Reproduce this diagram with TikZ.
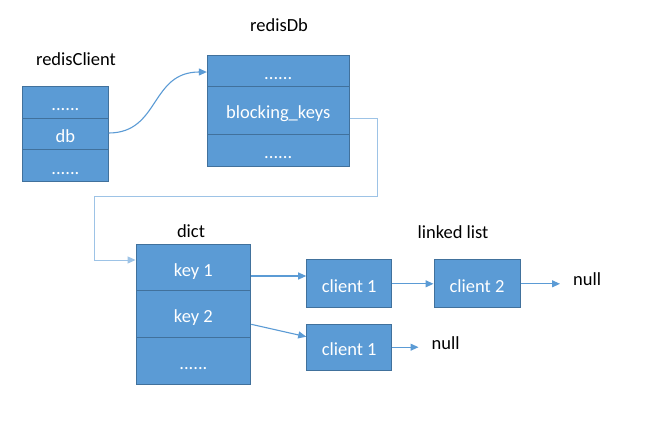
\documentclass[tikz,border=0pt]{standalone}
\usepackage{fontspec}
\setmainfont{Carlito}
\usetikzlibrary{arrows.meta}
\definecolor{cellfill}{HTML}{5B9BD5}
\definecolor{cellborder}{HTML}{41719C}
\definecolor{link}{HTML}{5B9BD5}
\definecolor{linklight}{HTML}{9DC3E6}
\tikzset{
  cell/.style={draw=cellborder, line width=1pt, fill=cellfill, text=white, inner sep=0pt,
    font=\fontsize{18.5}{21}\selectfont, text height=17pt, text depth=0pt, anchor=center},
  lbl/.style={font=\fontsize{18.5}{21}\selectfont, text=black, inner sep=0pt, anchor=base},
  conn/.style={draw=link, line width=1.1pt, -{Triangle[length=8pt,width=7pt]}},
  elbow/.style={draw=linklight, line width=1pt, -{Triangle[length=8pt,width=7pt]}}
}
\begin{document}
\begin{tikzpicture}[x=1pt,y=-1pt]
\useasboundingbox (0,0) rectangle (654,424);
\fill[white] (0,0) rectangle (654,424);

% redisClient
\node[lbl] (rcl) at (76,65) {redisClient};
\node[cell, minimum width=85.3pt, minimum height=32pt] (rc1) at (65.4,102) {......};
\node[cell, minimum width=85.3pt, minimum height=31.3pt] (rc2) at (65.4,133.7) {db};
\node[cell, minimum width=85.3pt, minimum height=32.4pt] (rc3) at (65.4,165.5) {......};

% redisDb
\node[lbl] (rdl) at (279,31.7) {redisDb};
\node[cell, minimum width=141.7pt, minimum height=31pt] (rd1) at (278.2,70.5) {......};
\node[cell, minimum width=141.7pt, minimum height=48.3pt] (rd2) at (278.2,110.2) {blocking\_keys};
\node[cell, minimum width=141.7pt, minimum height=31.7pt] (rd3) at (278.2,150.2) {......};

% dict
\node[lbl] (dl) at (191,237) {dict};
\node[cell, minimum width=114.7pt, minimum height=47pt] (d1) at (193.4,267.5) {key 1};
\node[cell, minimum width=114.7pt, minimum height=46.7pt] (d2) at (193.4,314.3) {key 2};
\node[cell, minimum width=114.7pt, minimum height=47.3pt] (d3) at (193.4,361.3) {......};

% linked list
\node[lbl] (ll) at (453,238) {linked list};
\node[cell, minimum width=85pt, minimum height=47.7pt] (c11) at (349.2,283.8) {client 1};
\node[cell, minimum width=86pt, minimum height=47.7pt] (c2) at (477,283.8) {client 2};
\node[cell, minimum width=85pt, minimum height=45.7pt] (c12) at (349.2,347.2) {client 1};
\node[lbl, anchor=base west] (n1) at (573,285) {null};
\node[lbl, anchor=base west] (n2) at (431.5,349.5) {null};

% connectors
\draw[conn] (rc2.east |- 0,133) .. controls (160,133) and (150,72) .. (rd1.west |- 0,72);
\coordinate (e1) at (377.3,118.3);
\coordinate (e2) at (377.3,196.7);
\coordinate (e3) at (94.5,196.7);
\coordinate (e4) at (94.5,260);
\draw[elbow] (rd2.east |- e1) -- (e1) -- (e2) -- (e3) -- (e4) -- (d1.west |- e4);
\draw[conn] (d1.east |- 0,276) -- (c11.west |- 0,276);
\draw[conn] (d2.east |- 0,324.3) -- (c12.west |- 0,336.7);
\draw[conn] (c11.east) -- (c2.west);
\draw[conn, shorten >=13pt] (c2.east) -- (n1.west |- c2.east);
\draw[conn, shorten >=13pt] (c12.east) -- (n2.west |- c12.east);
\end{tikzpicture}
\end{document}
